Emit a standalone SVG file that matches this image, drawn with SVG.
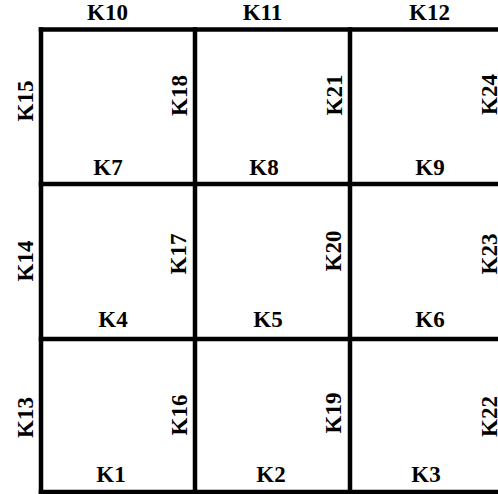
<svg xmlns="http://www.w3.org/2000/svg" width="498" height="494" viewBox="0 0 498 494">
<style>
.ln{stroke:#000;stroke-width:4.5;fill:none;stroke-linecap:square}
.t{font-family:"Liberation Serif","Times New Roman",serif;font-weight:bold;font-size:23px;fill:#000;text-anchor:middle}
</style>
<rect width="498" height="494" fill="#fff"/>
<g id="grid">
<line class="ln" x1="41" y1="29.5" x2="500" y2="29.5"/>
<line class="ln" x1="41" y1="184" x2="500" y2="184"/>
<line class="ln" x1="41" y1="339" x2="500" y2="339"/>
<line class="ln" x1="41" y1="492" x2="500" y2="492"/>
<line class="ln" x1="41" y1="29.5" x2="41" y2="496"/>
<line class="ln" x1="195" y1="29.5" x2="195" y2="496"/>
<line class="ln" x1="350" y1="29.5" x2="350" y2="496"/>
</g>
<g id="labels-h">
<text id="K10" class="t" x="107.5" y="20">K10</text>
<text id="K11" class="t" x="262.5" y="20">K11</text>
<text id="K12" class="t" x="429.5" y="20">K12</text>
<text id="K7" class="t" x="108" y="175">K7</text>
<text id="K8" class="t" x="264" y="175">K8</text>
<text id="K9" class="t" x="430" y="175">K9</text>
<text id="K4" class="t" x="113" y="327">K4</text>
<text id="K5" class="t" x="268" y="327">K5</text>
<text id="K6" class="t" x="430" y="327">K6</text>
<text id="K1" class="t" x="111" y="482">K1</text>
<text id="K2" class="t" x="271" y="482">K2</text>
<text id="K3" class="t" x="426" y="482">K3</text>
</g>
<g id="labels-v">
<text id="K15" class="t" transform="translate(33,101) rotate(-90)">K15</text>
<text id="K14" class="t" transform="translate(33,261) rotate(-90)">K14</text>
<text id="K13" class="t" transform="translate(33,417.5) rotate(-90)">K13</text>
<text id="K18" class="t" transform="translate(187,95.5) rotate(-90)">K18</text>
<text id="K17" class="t" transform="translate(186,254) rotate(-90)">K17</text>
<text id="K16" class="t" transform="translate(187,415) rotate(-90)">K16</text>
<text id="K21" class="t" transform="translate(342,95) rotate(-90)">K21</text>
<text id="K20" class="t" transform="translate(341,251) rotate(-90)">K20</text>
<text id="K19" class="t" transform="translate(341,413) rotate(-90)">K19</text>
<text id="K24" class="t" transform="translate(497,94.5) rotate(-90)">K24</text>
<text id="K23" class="t" transform="translate(497,254) rotate(-90)">K23</text>
<text id="K22" class="t" transform="translate(497,416.5) rotate(-90)">K22</text>
</g>
</svg>
